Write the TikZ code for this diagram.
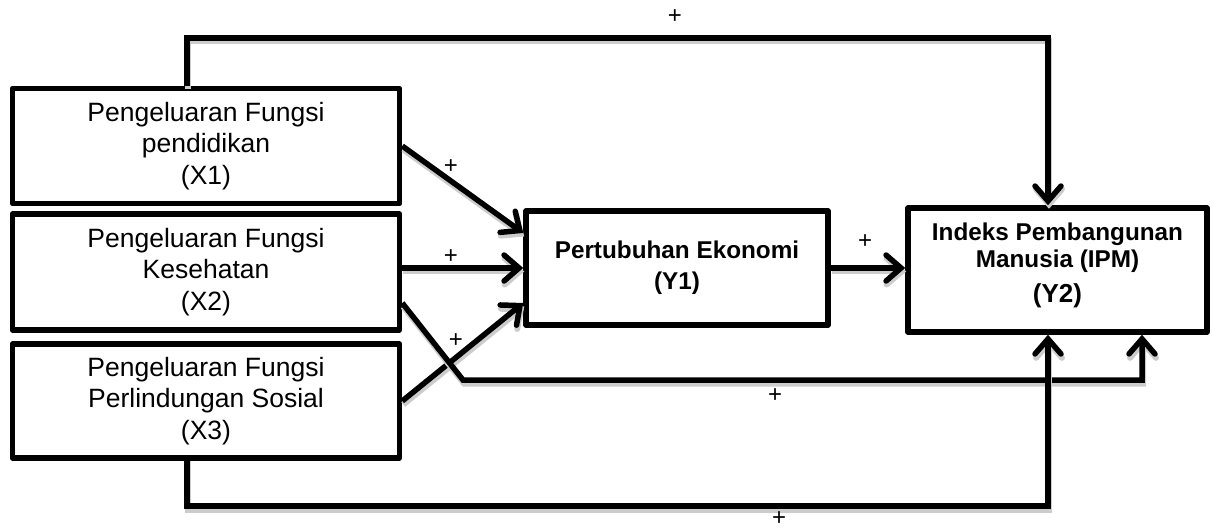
\documentclass[tikz,border=0pt]{standalone}
\usepackage{fontspec}
\setmainfont{Liberation Sans}
\usetikzlibrary{arrows.meta,calc}

\tikzset{
  varbox/.style={draw, line width=5.5pt, line join=round, inner sep=0pt,
    align=center, minimum width=387pt, minimum height=115pt,
    font=\fontsize{26.5}{31.5}\selectfont},
  resbox/.style={draw, line width=5.5pt, line join=round, inner sep=0pt,
    align=center, font=\bfseries\fontsize{24.3}{31}\selectfont},
  conn/.style={line width=5.5pt, line join=miter,
    -{Straight Barb[length=15pt,width=26pt,line cap=round]},
    preaction={draw=black!20, line width=6pt,
      transform canvas={shift={(1pt,-3.5pt)}}}},
  sign/.style={font=\fontsize{24}{24}\selectfont, inner sep=0pt}
}

\begin{document}
\begin{tikzpicture}[x=1pt,y=-1pt]
  \useasboundingbox (0,0) rectangle (1213,529);

  % independent variables
  \node[varbox] (X1) at (206,146) {Pengeluaran Fungsi\\pendidikan\\(X1)};
  \node[varbox, minimum height=116pt] (X2) at (206,272) {Pengeluaran Fungsi\\Kesehatan\\(X2)};
  \node[varbox, minimum height=114pt] (X3) at (206,401) {Pengeluaran Fungsi\\Perlindungan Sosial\\(X3)};

  % intervening and dependent variables
  \node[resbox, minimum width=302pt, minimum height=114pt] (Y1) at (677,268)
    {Pertubuhan Ekonomi\\(Y1)};
  \node[resbox, minimum width=299pt, minimum height=124pt] (Y2) at (1057.5,270)
    {Indeks Pembangunan\\[-4pt]Manusia (IPM)\\[4pt]{\fontsize{26}{26}\selectfont (Y2)\rule[-14pt]{0pt}{1pt}}};

  % bend points of the routed paths
  \coordinate (tl) at (187,38);
  \coordinate (tr) at (1048,38);
  \coordinate (k1) at (463,380);
  \coordinate (k2) at (1142,380);
  \coordinate (bl) at (187,506);
  \coordinate (br) at (1048,506);

  % X -> Y1
  \draw[conn] (X1.east) -- ($(Y1.west)+(0,-35)$);
  \draw[conn] (X2.east |- Y1.west) -- (Y1.west);
  \draw[conn] (X3.east) -- ($(Y1.west)+(0,35)$);

  % Y1 -> Y2
  \draw[conn] (Y1.east) -- (Y1.east -| Y2.west);

  % direct paths to Y2
  \draw[conn] (X1.north -| tl) -- (tl) -- (tr) -- (tr |- Y2.north);
  \draw[conn] ($(X2.east)+(0,31)$) -- (k1) -- (k2) -- (k2 |- Y2.south);
  \draw[conn] ($(X3.south -| bl)+(0,-3)$) -- (bl) -- (br) -- (br |- Y2.south);

  % signs
  \node[sign] (s0) at (675,17) {+};
  \node[sign] (s1) at (451,167) {+};
  \node[sign] (s2) at (451,257) {+};
  \node[sign] (s3) at (456,341) {+};
  \node[sign] (s4) at (865,242) {+};
  \node[sign] (s5) at (775,396) {+};
  \node[sign] (s6) at (779,519) {+};
\end{tikzpicture}
\end{document}
